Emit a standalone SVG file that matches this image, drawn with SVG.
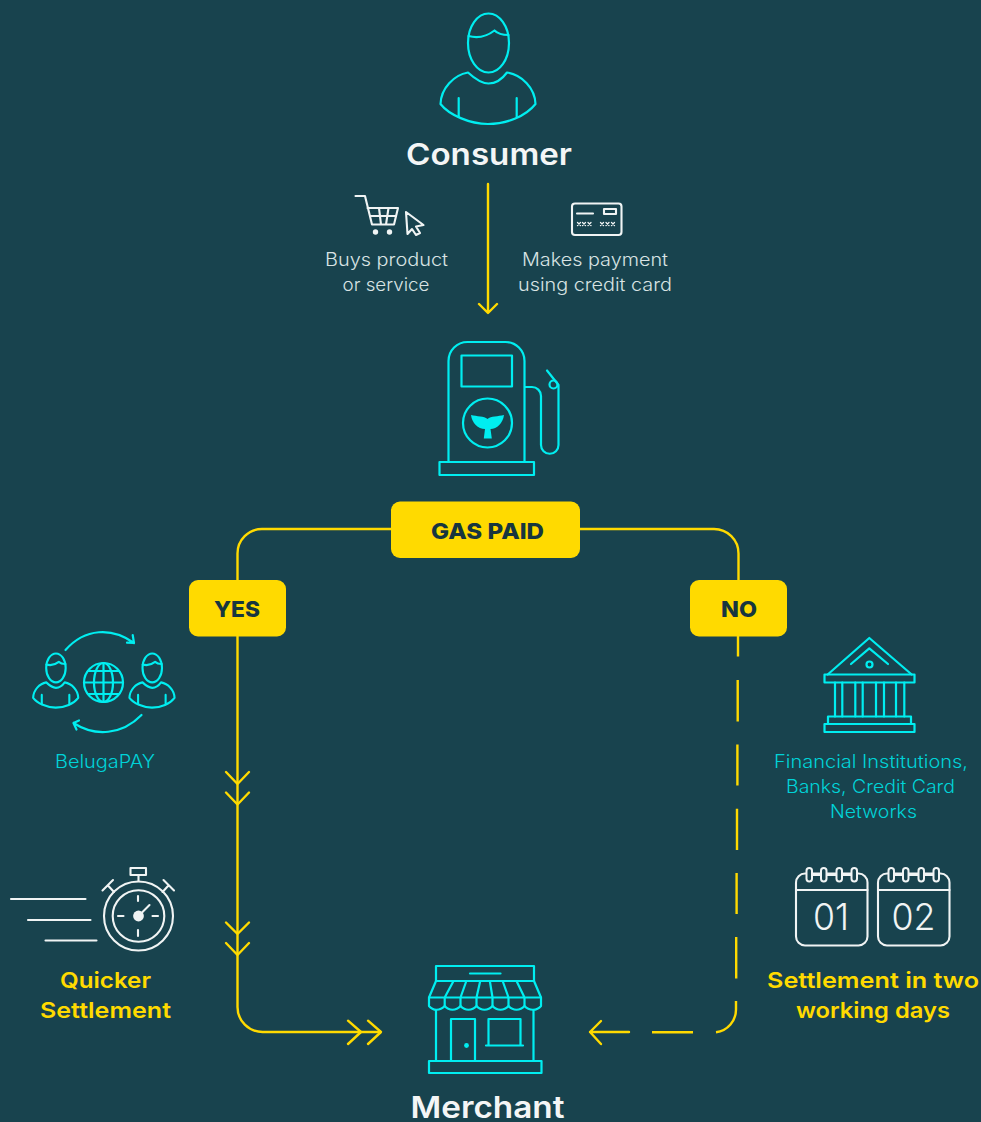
<svg xmlns="http://www.w3.org/2000/svg" xmlns:xlink="http://www.w3.org/1999/xlink" width="981" height="1122" viewBox="0 0 981 1122">
<style>
text{font-family:"Inter","Open Sans","Liberation Sans",sans-serif;text-anchor:middle}
.c{fill:none;stroke:#00eef0;stroke-width:2.200;stroke-linecap:round;stroke-linejoin:round}
.cf{fill:#00eef0}
.w{fill:none;stroke:#f0f4f4;stroke-width:2.100;stroke-linecap:round;stroke-linejoin:round}
.wf{fill:#f0f4f4}
.y{fill:none;stroke:#ffda00;stroke-width:2.400;stroke-linecap:round;stroke-linejoin:round}
.d{fill:none;stroke:#ffda00;stroke-width:2.400;stroke-linecap:butt}
.box{fill:#ffda00}
.lb{font-size:22px;font-weight:800;fill:#17363f}
.h{font-size:30px;font-weight:600;fill:#f4f6f6}
.t{font-size:18px;font-weight:300;fill:#d9e3e4}
.ct{font-size:18px;font-weight:300;fill:#00d3d8}
.yt{font-size:22px;font-weight:600;fill:#ffda00}
.ring{fill:#18434e;stroke:#f0f4f4;stroke-width:2}
</style>
<defs>
<g id="person">
<ellipse cx="488.500" cy="43" rx="20.500" ry="29.500"/>
<path d="M468.500 36C476 38 486 37 494.500 30.500C498 34 503 35 508.500 35"/>
<path d="M440.500 104C441 88 454 75 468 72.500C474 78 481 83.500 488.500 83.500C496 83.500 503 78 507 72.500C522 75 535 88 535.500 104C526 116 507 124 488 124C470 124 449 115 440.500 104Z"/>
<path d="M458.700 98V117M516.700 98V117"/>
</g>
</defs>
<rect width="981" height="1122" fill="#18434e"/>

<g id="connectors">
<path class="y" d="M488 184V312M479 304L488 313L497 304"/>
<path class="y" d="M391 529H262A24.500 24.500 0 0 0 237.500 553.500V580"/>
<path class="y" d="M580 529H714A24.500 24.500 0 0 1 738.500 553.500V580"/>
<path class="y" d="M237.500 636V1007A25 25 0 0 0 262.500 1032H380"/>
<path class="y" d="M226 772L237.500 784L249 772M226 792.500L237.500 804.500L249 792.500M226 922.500L237.500 934L249 922.500M226 943L237.500 955L249 943"/>
<path class="y" d="M348 1020.700L361 1032L348 1044M368 1020.700L381 1032L368 1044"/>
<path class="d" d="M738 636V656.500M737.700 680V721.500M737.400 744.500V785.500M737 808.700V850M736.600 873V914M736.200 937V978.500M736 1001V1009A23 23 0 0 1 716 1032.300M693 1032.300H652"/>
<path class="y" d="M629 1032H590M601 1021L590 1032L601 1044"/>
</g>

<g id="node-consumer">
<g class="c"><use xlink:href="#person" href="#person"/></g>
<text class="h" x="489" y="165" textLength="166" lengthAdjust="spacingAndGlyphs">Consumer</text>
</g>

<g id="node-buys">
<path class="w" d="M355.500 196H365L372 224.500H394L398 208H367.500M370 216H396M379 208L381 224.500M388.500 208L386 224.500"/>
<circle class="wf" cx="375.500" cy="232" r="2.700"/>
<circle class="wf" cx="389.500" cy="232" r="2.700"/>
<path class="w" d="M406 212L423.500 225L416 226.500L420 233L416 235L412 229L407.500 234Z"/>
<text class="t" x="386.500" y="266" textLength="123" lengthAdjust="spacingAndGlyphs">Buys product</text>
<text class="t" x="386" y="291" textLength="87" lengthAdjust="spacingAndGlyphs">or service</text>
</g>

<g id="node-card">
<rect class="w" x="572" y="203.500" width="49.500" height="31.500" rx="3"/>
<path class="w" d="M577 213.500H593"/>
<rect class="w" x="604" y="209" width="12" height="5"/>
<path class="w" style="stroke-width:1.300px" d="M577.500 222.500l3 3m0-3l-3 3M582.500 222.500l3 3m0-3l-3 3M588 222.500l3 3m0-3l-3 3M600.500 222.500l3 3m0-3l-3 3M606 222.500l3 3m0-3l-3 3M611.500 222.500l3 3m0-3l-3 3"/>
<text class="t" x="595" y="266" textLength="146" lengthAdjust="spacingAndGlyphs">Makes payment</text>
<text class="t" x="595" y="291" textLength="154" lengthAdjust="spacingAndGlyphs">using credit card</text>
</g>

<g id="node-pump">
<path class="c" d="M448.500 462V361A19 19 0 0 1 467.500 342H505.500A19 19 0 0 1 524.500 361V462"/>
<rect class="c" x="439.500" y="462" width="94.500" height="13"/>
<rect class="c" x="461.500" y="355.500" width="50.500" height="31"/>
<circle class="c" cx="487.500" cy="423" r="24.500"/>
<path class="cf" d="M471 415C477 416.500 484 416 487.500 419C491 416 498 416.500 504 415C503 423 497 429 490.500 429L491.800 438.500H483.800L485 429C478 429 472 423 471 415Z"/>
<path class="c" d="M525 387H532A9 9 0 0 1 541 396V445A8.700 8.700 0 0 0 558.500 445V385L547 370.500"/>
<circle class="c" cx="553.500" cy="384.500" r="4"/>
</g>

<g id="node-gas-paid">
<rect class="box" x="391" y="501.500" width="189" height="56.500" rx="9"/>
<text class="lb" x="487.500" y="539" textLength="113" lengthAdjust="spacingAndGlyphs">GAS PAID</text>
</g>
<g id="node-yes">
<rect class="box" x="189" y="580" width="97" height="56.500" rx="9"/>
<text class="lb" x="237" y="617" textLength="46" lengthAdjust="spacingAndGlyphs">YES</text>
</g>
<g id="node-no">
<rect class="box" x="690" y="580" width="97" height="56.500" rx="9"/>
<text class="lb" x="739" y="617" textLength="36" lengthAdjust="spacingAndGlyphs">NO</text>
</g>

<g id="node-belugapay">
<g class="c" style="stroke-width:4.400px">
<use xlink:href="#person" href="#person" transform="translate(55.700 653.500) scale(.475 .49) translate(-488 -13.500)"/>
<use xlink:href="#person" href="#person" transform="translate(152 653.500) scale(.475 .49) translate(-488 -13.500)"/>
</g>
<circle class="c" cx="103.500" cy="682.500" r="19.500"/>
<ellipse class="c" cx="103.500" cy="682.500" rx="9.500" ry="19.500"/>
<path class="c" d="M103.500 663V702M84 682.500H123M88 671H119M88 694H119"/>
<path class="c" d="M65.500 650C85 628 112 627 134 643M127 642.700L134 643L132.700 635"/>
<path class="c" d="M141.500 715C122 735 95 737 73.500 723M79 720.500L73.500 723L76.500 729.500"/>
<text class="ct" x="105" y="768" textLength="100" lengthAdjust="spacingAndGlyphs">BelugaPAY</text>
</g>

<g id="node-quicker">
<path class="w" d="M11 899H85.500M28 920H90.500M45.500 940.500H96.500"/>
<circle class="w" cx="138.500" cy="916" r="34.500"/>
<circle class="w" cx="138.500" cy="916" r="25.800"/>
<circle class="wf" cx="138.500" cy="916" r="5.400"/>
<path class="w" d="M141 913.500L149.500 905M138 896V901M138 930V936M118 916H123.500M152.500 916H158M138.500 875V881M102.500 890.500L113 880M108 885.500L114 892M163.500 880L174 890.500M168.500 885.500L162.500 892"/>
<rect class="w" x="130.500" y="868" width="15.500" height="7"/>
<text class="yt" x="105.500" y="988" textLength="91" lengthAdjust="spacingAndGlyphs">Quicker</text>
<text class="yt" x="105.500" y="1018" textLength="131" lengthAdjust="spacingAndGlyphs">Settlement</text>
</g>

<g id="node-merchant">
<rect class="c" x="436" y="966" width="98" height="15"/>
<path class="c" d="M470 973.500H500.500"/>
<path class="c" d="M436 981H534L541 997.500V1006C537 1011 529 1011 524.500 1006C520 1011 513 1011 508.500 1006C504 1011 497 1011 492.500 1006C488 1011 481 1011 476.500 1006C472 1011 465 1011 460.500 1006C456 1011 449 1011 444.700 1006C440 1011 433 1011 429 1006V997.500Z"/>
<path class="c" d="M429 997.500H541M453 982L444.700 997.500V1006M466 982L460.500 997.500V1006M480 982L476.500 997.500V1006M490 982L492.500 997.500V1006M503 982L508.500 997.500V1006M517 982L524.500 997.500V1006"/>
<path class="c" d="M436 1010V1061M533.500 1010V1061"/>
<rect class="c" x="429" y="1061" width="112.500" height="12"/>
<path class="c" d="M451 1061V1019H475V1061"/>
<circle class="cf" cx="466.500" cy="1045.500" r="2.400"/>
<path class="c" d="M488.500 1045.500V1019H520.500V1045.500M486 1045.500H523"/>
<text class="h" x="487.500" y="1118" textLength="154" lengthAdjust="spacingAndGlyphs">Merchant</text>
</g>

<g id="node-banks">
<path class="c" d="M827.700 674.500L869.300 638L911.700 674.500M851 664L869.300 648.300L888 664"/>
<circle class="c" cx="869.500" cy="664.500" r="3"/>
<rect class="c" x="824.500" y="674.500" width="90" height="8"/>
<path class="c" d="M835 682.500V716.500M842.300 682.500V716.500M855.300 682.500V716.500M862.700 682.500V716.500M876 682.500V716.500M884 682.500V716.500M896 682.500V716.500M904.300 682.500V716.500"/>
<rect class="c" x="828" y="716.500" width="83" height="7.500"/>
<rect class="c" x="824.500" y="724" width="90" height="8"/>
<text class="ct" x="871" y="768" textLength="194" lengthAdjust="spacingAndGlyphs">Financial Institutions,</text>
<text class="ct" x="870.500" y="793" textLength="169" lengthAdjust="spacingAndGlyphs">Banks, Credit Card</text>
<text class="ct" x="873.500" y="818" textLength="87" lengthAdjust="spacingAndGlyphs">Networks</text>
</g>

<g id="node-settlement">
<rect class="w" x="796" y="873.500" width="71.500" height="72" rx="9"/>
<path class="w" d="M796 890H867.500M811.500 875H821M826 875H836.500M841.500 875H851.500"/>
<rect class="ring" x="806.500" y="868" width="5.500" height="13.500" rx="2.700"/>
<rect class="ring" x="821" y="868" width="5.500" height="13.500" rx="2.700"/>
<rect class="ring" x="836.500" y="868" width="5.500" height="13.500" rx="2.700"/>
<rect class="ring" x="851.500" y="868" width="5.500" height="13.500" rx="2.700"/>
<text x="831" y="930" font-size="37" font-weight="300" fill="#f0f4f4" textLength="36" lengthAdjust="spacingAndGlyphs">01</text>
<rect class="w" x="878" y="873.500" width="71.500" height="72" rx="9"/>
<path class="w" d="M878 890H949.500M893.500 875H903M908 875H918.500M923.500 875H933.500"/>
<rect class="ring" x="888.500" y="868" width="5.500" height="13.500" rx="2.700"/>
<rect class="ring" x="903" y="868" width="5.500" height="13.500" rx="2.700"/>
<rect class="ring" x="918.500" y="868" width="5.500" height="13.500" rx="2.700"/>
<rect class="ring" x="933.500" y="868" width="5.500" height="13.500" rx="2.700"/>
<text x="913.500" y="930" font-size="37" font-weight="300" fill="#f0f4f4" textLength="44" lengthAdjust="spacingAndGlyphs">02</text>
<text class="yt" x="873" y="988" textLength="212" lengthAdjust="spacingAndGlyphs">Settlement in two</text>
<text class="yt" x="873" y="1018" textLength="154" lengthAdjust="spacingAndGlyphs">working days</text>
</g>
</svg>
